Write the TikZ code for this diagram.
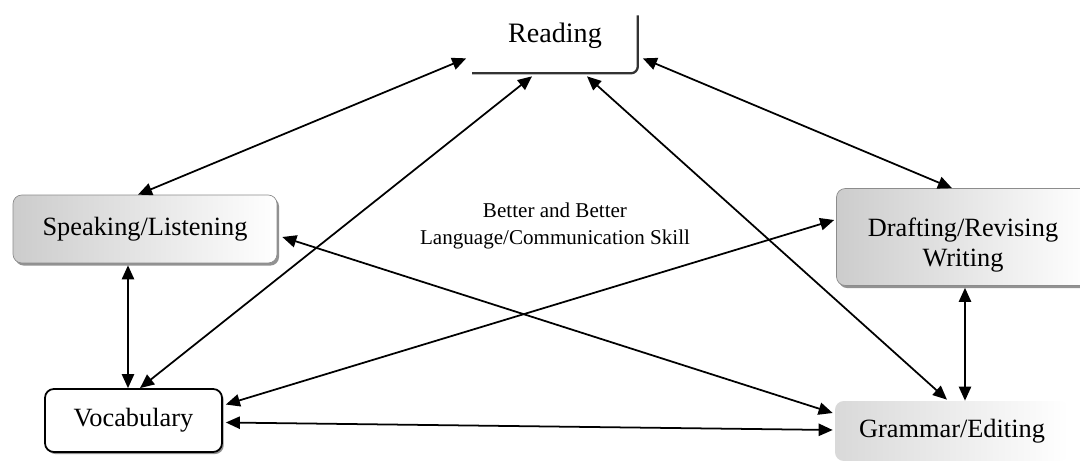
\documentclass[tikz,border=0pt]{standalone}
\usepackage{fontspec}
\setmainfont{Liberation Serif}
\usetikzlibrary{calc,arrows.meta,shadows}

\tikzset{
  skill/.style={rectangle,rounded corners=5pt,align=center,inner sep=0pt,
    font=\fontsize{15}{17}\selectfont},
  grainy/.style={skill,draw=black!45,left color=black!20,right color=white,
    drop shadow={shadow xshift=1.2pt,shadow yshift=-1.5pt,fill=black!85}},
  link/.style={{Triangle[length=8pt,width=7pt]}-{Triangle[length=8pt,width=7pt]},
    line width=1pt}
}

\begin{document}
\begin{tikzpicture}[x=0.02cm,y=-0.02cm]
  \useasboundingbox (0,0) rectangle (1080,463);

  % skill boxes
  \node[skill,font=\fontsize{16}{18}\selectfont,minimum width=3.3cm,minimum height=1.48cm]
    (read) at (555,36) {Reading};
  \draw[line width=1.3pt,black!80,rounded corners=4pt]
    (read.south west) -- (read.south east) -- ($(read.south east)+(0,-58)$);
  \node[grainy,minimum width=5.28cm,minimum height=1.36cm] (speak) at (145,229) {Speaking/Listening};
  \node[grainy,minimum width=5.06cm,minimum height=1.94cm] (draft) at (963,237)
    {\rule{0pt}{20pt}Drafting/Revising\\Writing};
  \node[skill,draw,line width=1pt,fill=white,
    drop shadow={shadow xshift=1pt,shadow yshift=-1.2pt,fill=black!85},
    minimum width=3.54cm,minimum height=1.26cm] (vocab) at (133.5,420.5) {Vocabulary};
  \node[skill,left color=black!15,right color=white,
    minimum width=4.68cm,minimum height=1.2cm] (gram) at (952,431) {Grammar/Editing};

  % goal in the middle
  \node[align=center,font=\fontsize{12}{15.3}\selectfont] (goal) at (555,226)
    {Better and Better\\Language/Communication Skill};

  % links from reading
  \draw[link] ($(read.south west)+(-6,-15)$) -- ($(speak.north)+(-7,0)$);
  \draw[link] ($(read.south)+(-23,3)$) -- ($(vocab.north)+(6.5,0)$);
  \draw[link] ($(read.south east)+(5,-15)$) -- ($(draft.north)+(-11,0)$);
  \draw[link] ($(read.south)+(32,3)$) -- ($(gram.north)+(-5,-1)$);

  % cross links
  \draw[link] ($(speak.east)+(5,8)$) -- ($(gram.west)+(-2,-18)$);
  \draw[link] ($(draft.west)+(-2,-17)$) -- ($(vocab.east)+(3,-16)$);

  % side links
  \draw[link] ($(speak.south)+(-17,2)$) -- ($(vocab.north)+(-5.5,0)$);
  \draw[link] ($(draft.south)+(2,2)$) -- ($(gram.north)+(13,0)$);
  \draw[link] ($(vocab.east)+(3,2)$) -- ($(gram.west)+(-2,-1)$);
\end{tikzpicture}
\end{document}
